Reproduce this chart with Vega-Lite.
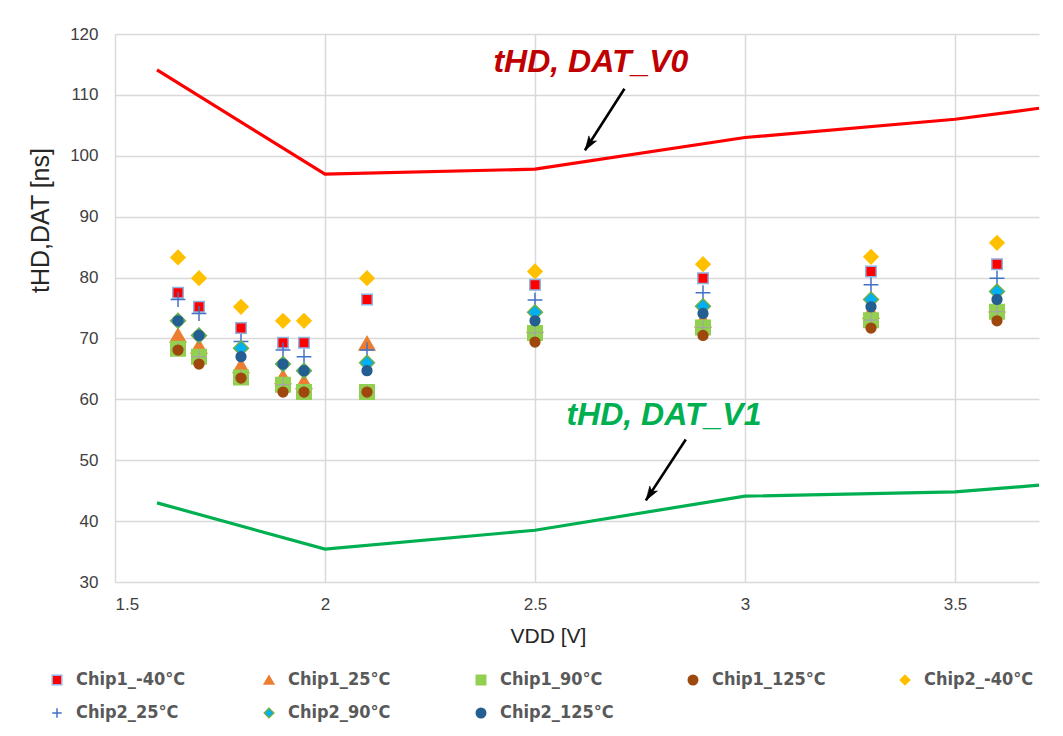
{
  "$schema": "https://vega.github.io/schema/vega-lite/v6.json",
  "autosize": "none",
  "width": 924,
  "height": 548,
  "padding": {"left": 115, "top": 34, "right": 24, "bottom": 154},
  "background": "white",
  "datasets": {
    "curves": [
      {"curve": "V0", "v": 1.6, "t": 114.1},
      {"curve": "V0", "v": 2.0, "t": 97.0},
      {"curve": "V0", "v": 2.5, "t": 97.8},
      {"curve": "V0", "v": 3.0, "t": 103.0},
      {"curve": "V0", "v": 3.5, "t": 106.0},
      {"curve": "V0", "v": 3.7, "t": 107.8},
      {"curve": "V1", "v": 1.6, "t": 43.0},
      {"curve": "V1", "v": 2.0, "t": 35.4},
      {"curve": "V1", "v": 2.5, "t": 38.5},
      {"curve": "V1", "v": 3.0, "t": 44.1},
      {"curve": "V1", "v": 3.5, "t": 44.8},
      {"curve": "V1", "v": 3.7, "t": 45.9}
    ],
    "chips": [
      {"s": "Chip1_-40°C", "v": 1.65, "t": 77.5},
      {"s": "Chip1_-40°C", "v": 1.7, "t": 75.2},
      {"s": "Chip1_-40°C", "v": 1.8, "t": 71.7},
      {"s": "Chip1_-40°C", "v": 1.9, "t": 69.3},
      {"s": "Chip1_-40°C", "v": 1.95, "t": 69.3},
      {"s": "Chip1_-40°C", "v": 2.1, "t": 76.4},
      {"s": "Chip1_-40°C", "v": 2.5, "t": 78.8},
      {"s": "Chip1_-40°C", "v": 2.9, "t": 79.9},
      {"s": "Chip1_-40°C", "v": 3.3, "t": 81.0},
      {"s": "Chip1_-40°C", "v": 3.6, "t": 82.2},
      {"s": "Chip1_25°C", "v": 1.65, "t": 70.5},
      {"s": "Chip1_25°C", "v": 1.7, "t": 68.7},
      {"s": "Chip1_25°C", "v": 1.8, "t": 65.5},
      {"s": "Chip1_25°C", "v": 1.9, "t": 63.7},
      {"s": "Chip1_25°C", "v": 1.95, "t": 62.9},
      {"s": "Chip1_25°C", "v": 2.1, "t": 69.2},
      {"s": "Chip1_25°C", "v": 2.5, "t": 72.1},
      {"s": "Chip1_25°C", "v": 2.9, "t": 73.0},
      {"s": "Chip1_25°C", "v": 3.3, "t": 74.4},
      {"s": "Chip1_25°C", "v": 3.6, "t": 75.5},
      {"s": "Chip1_90°C", "v": 1.65, "t": 68.3},
      {"s": "Chip1_90°C", "v": 1.7, "t": 67.0},
      {"s": "Chip1_90°C", "v": 1.8, "t": 63.6},
      {"s": "Chip1_90°C", "v": 1.9, "t": 62.4},
      {"s": "Chip1_90°C", "v": 1.95, "t": 61.2},
      {"s": "Chip1_90°C", "v": 2.1, "t": 61.2},
      {"s": "Chip1_90°C", "v": 2.5, "t": 70.9},
      {"s": "Chip1_90°C", "v": 2.9, "t": 71.8},
      {"s": "Chip1_90°C", "v": 3.3, "t": 73.0},
      {"s": "Chip1_90°C", "v": 3.6, "t": 74.4},
      {"s": "Chip1_125°C", "v": 1.65, "t": 68.1},
      {"s": "Chip1_125°C", "v": 1.7, "t": 65.8},
      {"s": "Chip1_125°C", "v": 1.8, "t": 63.5},
      {"s": "Chip1_125°C", "v": 1.9, "t": 61.2},
      {"s": "Chip1_125°C", "v": 1.95, "t": 61.2},
      {"s": "Chip1_125°C", "v": 2.1, "t": 61.2},
      {"s": "Chip1_125°C", "v": 2.5, "t": 69.4},
      {"s": "Chip1_125°C", "v": 2.9, "t": 70.5},
      {"s": "Chip1_125°C", "v": 3.3, "t": 71.7},
      {"s": "Chip1_125°C", "v": 3.6, "t": 72.9},
      {"s": "Chip2_-40°C", "v": 1.65, "t": 83.3},
      {"s": "Chip2_-40°C", "v": 1.7, "t": 79.9},
      {"s": "Chip2_-40°C", "v": 1.8, "t": 75.2},
      {"s": "Chip2_-40°C", "v": 1.9, "t": 72.9},
      {"s": "Chip2_-40°C", "v": 1.95, "t": 72.9},
      {"s": "Chip2_-40°C", "v": 2.1, "t": 79.9},
      {"s": "Chip2_-40°C", "v": 2.5, "t": 81.0},
      {"s": "Chip2_-40°C", "v": 2.9, "t": 82.2},
      {"s": "Chip2_-40°C", "v": 3.3, "t": 83.4},
      {"s": "Chip2_-40°C", "v": 3.6, "t": 85.7},
      {"s": "Chip2_25°C", "v": 1.65, "t": 76.4},
      {"s": "Chip2_25°C", "v": 1.7, "t": 74.1},
      {"s": "Chip2_25°C", "v": 1.8, "t": 69.5},
      {"s": "Chip2_25°C", "v": 1.9, "t": 68.1},
      {"s": "Chip2_25°C", "v": 1.95, "t": 67.0},
      {"s": "Chip2_25°C", "v": 2.1, "t": 68.1},
      {"s": "Chip2_25°C", "v": 2.5, "t": 76.3},
      {"s": "Chip2_25°C", "v": 2.9, "t": 77.5},
      {"s": "Chip2_25°C", "v": 3.3, "t": 78.8},
      {"s": "Chip2_25°C", "v": 3.6, "t": 79.9},
      {"s": "Chip2_90°C", "v": 1.65, "t": 72.9},
      {"s": "Chip2_90°C", "v": 1.7, "t": 70.5},
      {"s": "Chip2_90°C", "v": 1.8, "t": 68.4},
      {"s": "Chip2_90°C", "v": 1.9, "t": 65.8},
      {"s": "Chip2_90°C", "v": 1.95, "t": 64.7},
      {"s": "Chip2_90°C", "v": 2.1, "t": 66.0},
      {"s": "Chip2_90°C", "v": 2.5, "t": 74.3},
      {"s": "Chip2_90°C", "v": 2.9, "t": 75.3},
      {"s": "Chip2_90°C", "v": 3.3, "t": 76.4},
      {"s": "Chip2_90°C", "v": 3.6, "t": 77.7},
      {"s": "Chip2_125°C", "v": 1.65, "t": 72.9},
      {"s": "Chip2_125°C", "v": 1.7, "t": 70.5},
      {"s": "Chip2_125°C", "v": 1.8, "t": 67.0},
      {"s": "Chip2_125°C", "v": 1.9, "t": 65.8},
      {"s": "Chip2_125°C", "v": 1.95, "t": 64.7},
      {"s": "Chip2_125°C", "v": 2.1, "t": 64.7},
      {"s": "Chip2_125°C", "v": 2.5, "t": 72.9},
      {"s": "Chip2_125°C", "v": 2.9, "t": 74.1},
      {"s": "Chip2_125°C", "v": 3.3, "t": 75.2},
      {"s": "Chip2_125°C", "v": 3.6, "t": 76.4}
    ],
    "arrows": [
      {"name": "V0", "v": 2.713, "t": 111.0, "v2": 2.619, "t2": 100.9},
      {"name": "V1", "v": 2.859, "t": 53.4, "v2": 2.764, "t2": 43.4}
    ],
    "notes": [
      {"label": "tHD, DAT_V0", "v": 2.633, "t": 115.4, "kind": "V0"},
      {"label": "tHD, DAT_V1", "v": 2.807, "t": 57.4, "kind": "V1"}
    ]
  },
  "encoding": {
    "x": {
      "field": "v",
      "type": "quantitative",
      "scale": {"domain": [1.5, 3.7], "nice": false, "zero": false},
      "axis": {
        "values": [1.5, 2, 2.5, 3, 3.5],
        "format": "~g",
        "title": "VDD [V]",
        "titleX": 433,
        "titleY": 54,
        "titleBaseline": "middle",
        "titleAlign": "center",
        "titleFontSize": 21,
        "labelPadding": 14
      }
    },
    "y": {
      "field": "t",
      "type": "quantitative",
      "scale": {"domain": [30, 120], "nice": false, "zero": false},
      "axis": {
        "values": [30, 40, 50, 60, 70, 80, 90, 100, 110, 120],
        "title": "tHD,DAT [ns]",
        "titleX": -75,
        "titleY": 186,
        "titleAngle": -90,
        "titleAlign": "center",
        "titleBaseline": "middle",
        "titleFontSize": 25,
        "labelPadding": 17
      }
    }
  },
  "layer": [
    {
      "data": {"name": "curves"},
      "transform": [{"filter": "datum.curve === 'V0'"}],
      "mark": {"type": "line", "stroke": "#FF0000", "strokeWidth": 3.2}
    },
    {
      "data": {"name": "curves"},
      "transform": [{"filter": "datum.curve === 'V1'"}],
      "mark": {"type": "line", "stroke": "#00B050", "strokeWidth": 3.2}
    },
    {
      "data": {"name": "chips"},
      "transform": [{"filter": "datum.s === 'Chip1_-40°C'"}],
      "mark": {"type": "point", "filled": true, "opacity": 1, "strokeWidth": 1.5, "size": 110},
      "encoding": {
        "fill": {"field": "s", "type": "nominal", "legend": {"title": null}, "scale": {"domain": ["Chip1_-40°C", "Chip1_25°C", "Chip1_90°C", "Chip1_125°C", "Chip2_-40°C", "Chip2_25°C", "Chip2_90°C", "Chip2_125°C"], "range": ["#FF0000", "#ED7D31", "#92D050", "#9E480E", "#FFC000", "transparent", "#00B0F0", "#255E91"]}},
        "stroke": {"field": "s", "type": "nominal", "legend": {"title": null}, "scale": {"domain": ["Chip1_-40°C", "Chip1_25°C", "Chip1_90°C", "Chip1_125°C", "Chip2_-40°C", "Chip2_25°C", "Chip2_90°C", "Chip2_125°C"], "range": ["#8EB4E3", "#ED7D31", "#92D050", "#9E480E", "#FFC000", "#4472C4", "#70AD47", "#255E91"]}},
        "shape": {"field": "s", "type": "nominal", "legend": {"title": null}, "scale": {"domain": ["Chip1_-40°C", "Chip1_25°C", "Chip1_90°C", "Chip1_125°C", "Chip2_-40°C", "Chip2_25°C", "Chip2_90°C", "Chip2_125°C"], "range": ["square", "triangle-up", "square", "circle", "diamond", "M-1,0L1,0M0,-1L0,1", "diamond", "circle"]}}
      }
    },
    {
      "data": {"name": "chips"},
      "transform": [{"filter": "datum.s === 'Chip1_25°C'"}],
      "mark": {"type": "point", "filled": true, "opacity": 1, "strokeWidth": 1.5, "size": 240},
      "encoding": {
        "fill": {"field": "s", "type": "nominal", "legend": {"title": null}},
        "stroke": {"field": "s", "type": "nominal", "legend": {"title": null}},
        "shape": {"field": "s", "type": "nominal", "legend": {"title": null}}
      }
    },
    {
      "data": {"name": "chips"},
      "transform": [{"filter": "datum.s === 'Chip1_90°C'"}],
      "mark": {"type": "point", "filled": true, "opacity": 1, "strokeWidth": 1.5, "size": 210},
      "encoding": {
        "fill": {"field": "s", "type": "nominal", "legend": {"title": null}},
        "stroke": {"field": "s", "type": "nominal", "legend": {"title": null}},
        "shape": {"field": "s", "type": "nominal", "legend": {"title": null}}
      }
    },
    {
      "data": {"name": "chips"},
      "transform": [{"filter": "datum.s === 'Chip1_90°C'"}],
      "mark": {"type": "point", "shape": "M-1,0L1,0M0,-1L0,1", "size": 200, "filled": false, "fill": "transparent", "stroke": "#A5A5A5", "strokeWidth": 1.2, "opacity": 1}
    },
    {
      "data": {"name": "chips"},
      "transform": [{"filter": "datum.s === 'Chip1_125°C'"}],
      "mark": {"type": "point", "filled": true, "opacity": 1, "strokeWidth": 1.5, "size": 95},
      "encoding": {
        "fill": {"field": "s", "type": "nominal", "legend": {"title": null}},
        "stroke": {"field": "s", "type": "nominal", "legend": {"title": null}},
        "shape": {"field": "s", "type": "nominal", "legend": {"title": null}}
      }
    },
    {
      "data": {"name": "chips"},
      "transform": [{"filter": "datum.s === 'Chip2_-40°C'"}],
      "mark": {"type": "point", "filled": true, "opacity": 1, "strokeWidth": 1.5, "size": 200},
      "encoding": {
        "fill": {"field": "s", "type": "nominal", "legend": {"title": null}},
        "stroke": {"field": "s", "type": "nominal", "legend": {"title": null}},
        "shape": {"field": "s", "type": "nominal", "legend": {"title": null}}
      }
    },
    {
      "data": {"name": "chips"},
      "transform": [{"filter": "datum.s === 'Chip2_25°C'"}],
      "mark": {"type": "point", "filled": true, "opacity": 1, "strokeWidth": 1.5, "size": 220},
      "encoding": {
        "fill": {"field": "s", "type": "nominal", "legend": {"title": null}},
        "stroke": {"field": "s", "type": "nominal", "legend": {"title": null}},
        "shape": {"field": "s", "type": "nominal", "legend": {"title": null}}
      }
    },
    {
      "data": {"name": "chips"},
      "transform": [{"filter": "datum.s === 'Chip2_90°C'"}],
      "mark": {"type": "point", "filled": true, "opacity": 1, "strokeWidth": 1.5, "size": 220},
      "encoding": {
        "fill": {"field": "s", "type": "nominal", "legend": {"title": null}},
        "stroke": {"field": "s", "type": "nominal", "legend": {"title": null}},
        "shape": {"field": "s", "type": "nominal", "legend": {"title": null}}
      }
    },
    {
      "data": {"name": "chips"},
      "transform": [{"filter": "datum.s === 'Chip2_125°C'"}],
      "mark": {"type": "point", "filled": true, "opacity": 1, "strokeWidth": 1.5, "size": 95},
      "encoding": {
        "fill": {"field": "s", "type": "nominal", "legend": {"title": null}},
        "stroke": {"field": "s", "type": "nominal", "legend": {"title": null}},
        "shape": {"field": "s", "type": "nominal", "legend": {"title": null}}
      }
    },
    {
      "data": {"name": "arrows"},
      "mark": {"type": "rule", "stroke": "#000000", "strokeWidth": 2.6},
      "encoding": {
        "x2": {"field": "v2"},
        "y2": {"field": "t2"}
      }
    },
    {
      "data": {"name": "arrows"},
      "mark": {"type": "point", "shape": "M0,0L-0.55,1.7L0,1.3L0.55,1.7Z", "size": 280, "filled": true, "fill": "#000000", "stroke": "#000000", "strokeWidth": 0.5, "opacity": 1, "angle": 213},
      "encoding": {
        "x": {"field": "v2", "type": "quantitative"},
        "y": {"field": "t2", "type": "quantitative"}
      }
    },
    {
      "data": {"name": "notes"},
      "mark": {"type": "text", "font": "Liberation Sans", "fontSize": 32, "fontWeight": "bold", "fontStyle": "italic", "align": "center", "baseline": "middle"},
      "encoding": {
        "text": {"field": "label", "type": "nominal"},
        "color": {"field": "kind", "type": "nominal", "legend": null, "scale": {"domain": ["V0", "V1"], "range": ["#C00000", "#00B050"]}}
      }
    }
  ],
  "config": {
    "view": {"stroke": null},
    "axis": {
      "grid": true,
      "gridColor": "#D9D9D9",
      "gridWidth": 1.5,
      "domain": false,
      "ticks": false,
      "labelFont": "Liberation Sans",
      "labelFontSize": 17,
      "labelColor": "#404040",
      "titleFont": "Liberation Sans",
      "titleFontWeight": "normal",
      "titleColor": "#262626"
    },
    "legend": {
      "orient": "none",
      "legendX": -67,
      "legendY": 637,
      "direction": "horizontal",
      "columns": 5,
      "gridAlign": "all",
      "columnPadding": 70,
      "rowPadding": 15,
      "symbolSize": 90,
      "symbolStrokeWidth": 1.5,
      "labelOffset": 10,
      "labelFont": "DejaVu Sans Condensed, Liberation Sans",
      "labelFontSize": 18,
      "labelFontWeight": "bold",
      "labelColor": "#595959",
      "labelLimit": 200
    }
  }
}
